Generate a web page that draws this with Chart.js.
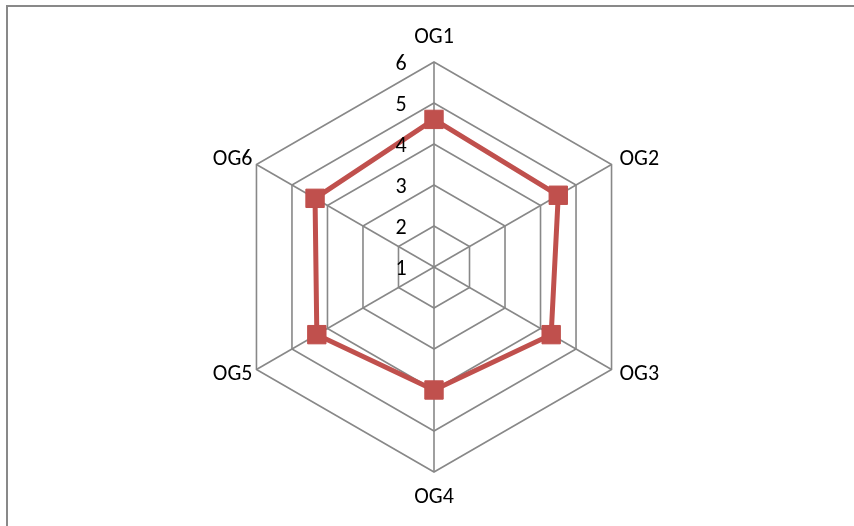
<!DOCTYPE html>
<html>
<head>
<meta charset="utf-8">
<script src="https://cdn.jsdelivr.net/npm/chart.js@4/dist/chart.umd.min.js"></script>
<style>
  html, body { margin: 0; padding: 0; width: 854px; height: 526px; overflow: hidden; background: #ffffff; }
  #frame { position: absolute; left: 6px; top: 5px; width: 900px; height: 600px; border: 2px solid #898989; box-sizing: border-box; }
  #c { position: absolute; left: 0; top: 0; }
</style>
</head>
<body>
<div id="frame"></div>
<canvas id="c" width="854" height="526"></canvas>
<script>
const categories = ['OG1', 'OG2', 'OG3', 'OG4', 'OG5', 'OG6'];
const scores = [4.6, 4.5, 4.3, 4.0, 4.3, 4.35];
const tickValues = [1, 2, 3, 4, 5, 6];

const FONT = '22px Carlito, Calibri, Lato, sans-serif';
const GRID = '#888888';
const RED = '#C0504D';

// Axis numbers and category names, placed from the radial scale geometry
const labelPlugin = {
  id: 'radarText',
  afterDraw(chart) {
    const s = chart.scales.r;
    const ctx = chart.ctx;
    ctx.save();
    ctx.font = FONT;
    ctx.fillStyle = '#000000';
    ctx.textBaseline = 'middle';

    // value labels along the top spoke, offset to its left
    ctx.textAlign = 'center';
    tickValues.forEach(v => {
      const d = s.getDistanceFromCenterForValue(v);
      ctx.fillText(String(v), s.xCenter - 33, s.yCenter - d + 2);
    });

    // category names around the outer ring
    const outer = s.drawingArea;
    categories.forEach((name, i) => {
      const p = s.getPointPosition(i, outer);
      const a = ((s.getIndexAngle(i) * 180 / Math.PI) % 360 + 360) % 360;
      if (Math.abs(a) < 1) {
        ctx.textAlign = 'center';
        ctx.fillText(name, p.x, p.y - 25);
      } else if (Math.abs(a - 180) < 1) {
        ctx.textAlign = 'center';
        ctx.fillText(name, p.x, p.y + 25);
      } else {
        const right = a < 180;
        const upper = a < 90 || a > 270;
        ctx.textAlign = right ? 'left' : 'right';
        ctx.fillText(name, p.x + (right ? 8 : -4), p.y + (upper ? -5 : 5));
      }
    });
    ctx.restore();
  }
};

new Chart(document.getElementById('c'), {
  type: 'radar',
  data: {
    labels: categories,
    datasets: [{
      data: scores,
      borderColor: RED,
      backgroundColor: RED,
      borderWidth: 5,
      fill: false,
      pointStyle: 'rect',
      pointRadius: 13,
      pointHoverRadius: 13,
      pointBorderWidth: 1,
      pointBackgroundColor: RED,
      pointBorderColor: RED,
      tension: 0
    }]
  },
  options: {
    responsive: false,
    animation: false,
    devicePixelRatio: 1,
    layout: { padding: { left: 229, right: 215, top: 62, bottom: 54 } },
    plugins: { legend: { display: false }, tooltip: { enabled: false } },
    scales: {
      r: {
        min: 1,
        max: 6,
        ticks: { stepSize: 1, display: false },
        grid: { color: GRID, lineWidth: 1.6 },
        angleLines: { color: GRID, lineWidth: 1.6 },
        pointLabels: { display: false }
      }
    }
  },
  plugins: [labelPlugin]
});
</script>
</body>
</html>
